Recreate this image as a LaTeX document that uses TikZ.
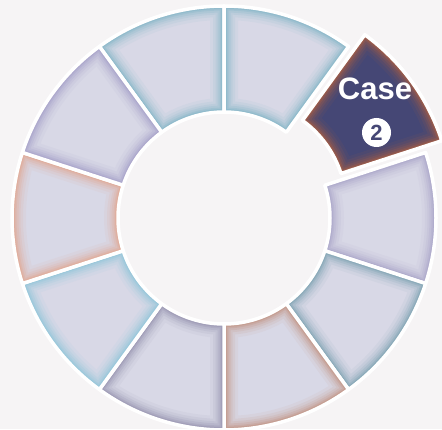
\documentclass[tikz,border=0pt]{standalone}
\usepackage{fontspec}
\setmainfont{Liberation Sans}
\definecolor{bgc}{HTML}{F6F4F5}
\definecolor{basec}{HTML}{D8D8E6}
\definecolor{casenavy}{HTML}{454775}
\definecolor{caseedge}{HTML}{C0643A}
\definecolor{tealA}{HTML}{72AFC2}
\definecolor{lavA}{HTML}{A09AC4}
\definecolor{tealD}{HTML}{6A97A7}
\definecolor{brownA}{HTML}{BF8570}
\definecolor{slateA}{HTML}{8A85A5}
\definecolor{tealL}{HTML}{82C4D8}
\definecolor{orangeA}{HTML}{E59E80}
\definecolor{purpA}{HTML}{9C95C4}
\newcommand\segp[2]{(#1:212pt) arc[start angle=#1,end angle=#2,radius=212pt] -- (#2:106pt) arc[start angle=#2,end angle=#1,radius=106pt] -- cycle}
\newcommand\drawseg[4]{%
  \begin{scope}
    \clip \segp{#1}{#2};
    \fill[#3] \segp{#1}{#2};
    \foreach \w/\o in {28/0.07,22/0.1,17/0.13,13/0.17,9/0.22,6/0.3,3.5/0.4}{%
      \draw[#4,line width=\w pt,opacity=\o] \segp{#1}{#2};}
  \end{scope}
  \draw[white,line width=3.5pt,line join=round] \segp{#1}{#2};
}
\tikzset{casetext/.style={text=white,font=\fontsize{31}{31}\selectfont\bfseries},
  casenum/.style={circle,fill=white,minimum size=29pt,inner sep=0pt,text=casenavy,font=\fontsize{22}{22}\selectfont\bfseries}}
\begin{document}
\begin{tikzpicture}
\useasboundingbox (0pt,0pt) rectangle (442pt,429pt);
\fill[bgc] (0pt,0pt) rectangle (442pt,429pt);
\begin{scope}[shift={(224pt,211pt)}]
  \drawseg{90}{126}{basec}{tealA}
  \drawseg{54}{90}{basec}{tealA}
  \drawseg{-18}{18}{basec}{lavA}
  \drawseg{-54}{-18}{basec}{tealD}
  \drawseg{-90}{-54}{basec}{brownA}
  \drawseg{-126}{-90}{basec}{slateA}
  \drawseg{-162}{-126}{basec}{tealL}
  \drawseg{162}{198}{basec}{orangeA}
  \drawseg{126}{162}{basec}{purpA}
  \begin{scope}[shift={(36:20pt)}]
    \drawseg{18}{54}{casenavy}{caseedge}
  \end{scope}
\end{scope}
\node[casetext] (case) at (375pt,340pt) {Case};
\node[casenum] (num) at (376.5pt,296.5pt) {2};
\end{tikzpicture}
\end{document}
